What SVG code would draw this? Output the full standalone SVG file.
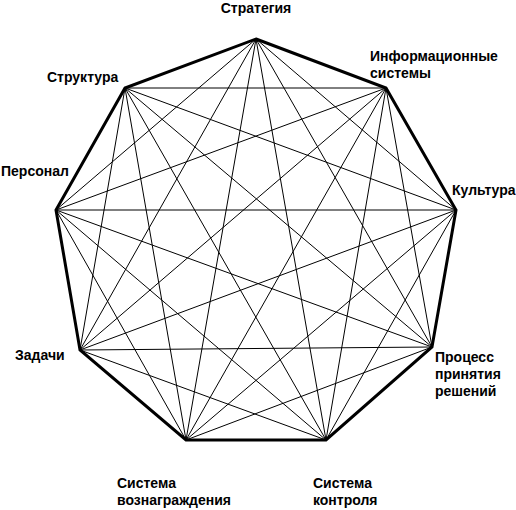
<svg xmlns="http://www.w3.org/2000/svg" width="516" height="510" viewBox="0 0 516 510">
<style>
text{font-family:"Liberation Sans",Arial,sans-serif;font-size:14px;font-weight:bold;fill:#000}
.edge{stroke:#000;stroke-width:3;fill:none;stroke-linejoin:miter}
.diag{stroke:#000;stroke-width:1;fill:none}
</style>
<rect width="516" height="510" fill="#fff"/>
<g id="connectors">
<polygon class="edge" points="256,39 386,88 456,210 432,347 326,440 186,440 80,350 56,210 125,88"/>
<g class="diag">
<line x1="256" y1="39" x2="456" y2="210"/>
<line x1="256" y1="39" x2="432" y2="347"/>
<line x1="256" y1="39" x2="326" y2="440"/>
<line x1="256" y1="39" x2="186" y2="440"/>
<line x1="256" y1="39" x2="80" y2="350"/>
<line x1="256" y1="39" x2="56" y2="210"/>
<line x1="386" y1="88" x2="432" y2="347"/>
<line x1="386" y1="88" x2="326" y2="440"/>
<line x1="386" y1="88" x2="186" y2="440"/>
<line x1="386" y1="88" x2="80" y2="350"/>
<line x1="386" y1="88" x2="56" y2="210"/>
<line x1="386" y1="88" x2="125" y2="88"/>
<line x1="456" y1="210" x2="326" y2="440"/>
<line x1="456" y1="210" x2="186" y2="440"/>
<line x1="456" y1="210" x2="80" y2="350"/>
<line x1="456" y1="210" x2="56" y2="210"/>
<line x1="456" y1="210" x2="125" y2="88"/>
<line x1="432" y1="347" x2="186" y2="440"/>
<line x1="432" y1="347" x2="80" y2="350"/>
<line x1="432" y1="347" x2="56" y2="210"/>
<line x1="432" y1="347" x2="125" y2="88"/>
<line x1="326" y1="440" x2="80" y2="350"/>
<line x1="326" y1="440" x2="56" y2="210"/>
<line x1="326" y1="440" x2="125" y2="88"/>
<line x1="186" y1="440" x2="56" y2="210"/>
<line x1="186" y1="440" x2="125" y2="88"/>
<line x1="80" y1="350" x2="125" y2="88"/>
</g>
</g>
<g id="n-strategy"><text x="256" y="13" text-anchor="middle">Стратегия</text></g>
<g id="n-info"><text x="370" y="61">Информационные</text><text x="370" y="78">системы</text></g>
<g id="n-culture"><text x="452" y="195">Культура</text></g>
<g id="n-process"><text x="435" y="362">Процесс</text><text x="435" y="379">принятия</text><text x="435" y="396">решений</text></g>
<g id="n-control"><text x="313" y="488">Система</text><text x="313" y="505">контроля</text></g>
<g id="n-reward"><text x="117" y="488">Система</text><text x="117" y="505">вознаграждения</text></g>
<g id="n-tasks"><text x="15" y="360">Задачи</text></g>
<g id="n-staff"><text x="1" y="176">Персонал</text></g>
<g id="n-structure"><text x="47" y="82">Структура</text></g>
</svg>
